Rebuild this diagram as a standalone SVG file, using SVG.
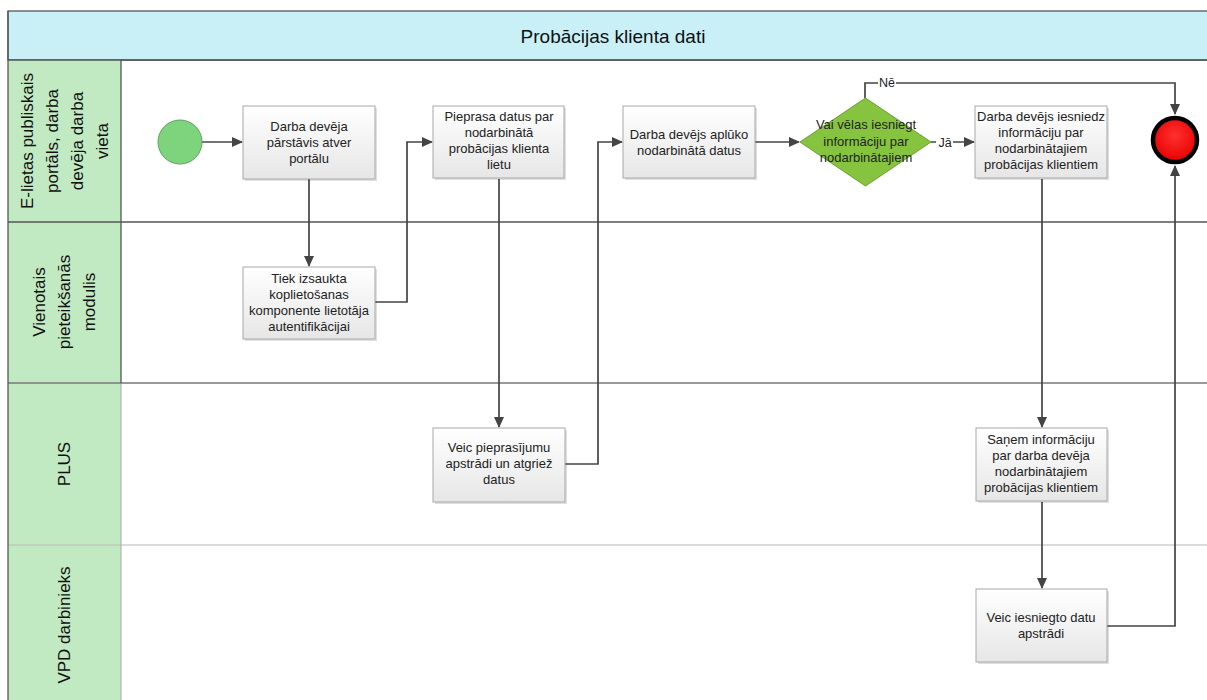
<svg xmlns="http://www.w3.org/2000/svg" width="1207" height="700" viewBox="0 0 1207 700">
<style>
.lane-h{fill:#c2eac2}
.lbl{font-family:"Liberation Sans",Arial,sans-serif;font-size:17px;fill:#111;text-anchor:middle}
.box{fill:url(#g);stroke:#a8a8a8;stroke-width:1}
.sh{fill:#000;opacity:0.12}
.t{font-family:"Liberation Sans",Arial,sans-serif;font-size:13px;fill:#222;text-anchor:middle}
.c{fill:none;stroke:#444;stroke-width:1.7}
.cl{font-family:"Liberation Sans",Arial,sans-serif;font-size:12.5px;fill:#222;text-anchor:middle}
</style>
<defs>
<linearGradient id="g" x1="0" y1="0" x2="0" y2="1">
<stop offset="0" stop-color="#ffffff"/>
<stop offset="1" stop-color="#e6e6e6"/>
</linearGradient>
<radialGradient id="rg" cx="0.5" cy="0.4" r="0.6">
<stop offset="0" stop-color="#ff3030"/>
<stop offset="1" stop-color="#e80000"/>
</radialGradient>
<marker id="a" markerWidth="11" markerHeight="10" refX="10" refY="5" orient="auto" markerUnits="userSpaceOnUse">
<path d="M0,0 L11,5 L0,10 Z" fill="#444"/>
</marker>
</defs>
<rect width="1207" height="700" fill="#fff"/>
<g id="pool">
<rect x="8" y="11" width="1210" height="49" fill="#c8f0f6" stroke="#555" stroke-width="1.3"/>
<text x="613" y="43" font-family="Liberation Sans,Arial,sans-serif" font-size="19" fill="#111" text-anchor="middle">Probācijas klienta dati</text>
<rect class="lane-h" x="8" y="60" width="113" height="650"/>
<line x1="121" y1="383" x2="121" y2="700" stroke="#aaa" stroke-width="1"/>
<line x1="8" y1="545" x2="1207" y2="545" stroke="#b8b8b8" stroke-width="1.2"/>
<line x1="8" y1="383" x2="1207" y2="383" stroke="#777" stroke-width="1.3"/>
<line x1="121" y1="60" x2="121" y2="383" stroke="#555" stroke-width="1.3"/>
<line x1="8" y1="222" x2="1207" y2="222" stroke="#555" stroke-width="1.3"/>
<line x1="8" y1="60" x2="1207" y2="60" stroke="#555" stroke-width="1.3"/>
<line x1="8" y1="11" x2="8" y2="700" stroke="#555" stroke-width="1.3"/>
</g>
<g id="lane1-label" transform="translate(64,141) rotate(-90)">
<text class="lbl" x="0" y="-31">E-lietas publiskais</text>
<text class="lbl" x="0" y="-6">portāls, darba</text>
<text class="lbl" x="0" y="19">devēja darba</text>
<text class="lbl" x="0" y="44">vieta</text>
</g>
<g id="lane2-label" transform="translate(64,302) rotate(-90)">
<text class="lbl" x="0" y="-19">Vienotais</text>
<text class="lbl" x="0" y="6">pieteikšanās</text>
<text class="lbl" x="0" y="31">modulis</text>
</g>
<g id="lane3-label" transform="translate(64,464) rotate(-90)">
<text class="lbl" x="0" y="6">PLUS</text>
</g>
<g id="lane4-label" transform="translate(64,625) rotate(-90)">
<text class="lbl" x="0" y="6">VPD darbinieks</text>
</g>
<g id="connectors">
<path class="c" d="M202,142 L242,142" marker-end="url(#a)"/>
<path class="c" d="M309,179 L309,266" marker-end="url(#a)"/>
<path class="c" d="M375,302 L407,302 L407,142 L432,142" marker-end="url(#a)"/>
<path class="c" d="M499,179 L499,427" marker-end="url(#a)"/>
<path class="c" d="M565,464 L598,464 L598,142 L622,142" marker-end="url(#a)"/>
<path class="c" d="M755,142 L799,142" marker-end="url(#a)"/>
<path class="c" d="M931,142 L974,142" marker-end="url(#a)"/>
<path class="c" d="M865,98 L865,83 L1175,83 L1175,114" marker-end="url(#a)"/>
<path class="c" d="M1042,179 L1042,427" marker-end="url(#a)"/>
<path class="c" d="M1042,502 L1042,588" marker-end="url(#a)"/>
<path class="c" d="M1107,626 L1175,626 L1175,166" marker-end="url(#a)"/>
<rect x="878" y="76" width="18" height="13" fill="#fff"/>
<text class="cl" x="887" y="87">Nē</text>
<rect x="936" y="135" width="17" height="13" fill="#fff"/>
<text class="cl" x="945" y="147">Jā</text>
</g>
<g id="start">
<circle cx="180" cy="142" r="22" fill="#7dd47d" stroke="#5e9e5e" stroke-width="1"/>
</g>
<g id="n1">
<rect class="sh" x="245" y="108" width="132" height="73"/>
<rect class="box" x="243" y="106" width="132" height="73"/>
<text class="t" x="309" y="131">Darba devēja</text>
<text class="t" x="309" y="147">pārstāvis atver</text>
<text class="t" x="309" y="163">portālu</text>
</g>
<g id="n2">
<rect class="sh" x="435" y="108" width="131" height="72"/>
<rect class="box" x="433" y="106" width="131" height="72"/>
<text class="t" x="499" y="121">Pieprasa datus par</text>
<text class="t" x="499" y="137">nodarbinātā</text>
<text class="t" x="499" y="153">probācijas klienta</text>
<text class="t" x="499" y="169">lietu</text>
</g>
<g id="n3">
<rect class="sh" x="625" y="108" width="132" height="72"/>
<rect class="box" x="623" y="106" width="132" height="72"/>
<text class="t" x="689" y="139">Darba devējs aplūko</text>
<text class="t" x="689" y="155">nodarbinātā datus</text>
</g>
<g id="gateway">
<polygon points="865.5,98 931,142 865.5,186 800,142" fill="#86c440" stroke="#6a9e30" stroke-width="1"/>
<text class="t" x="866" y="129">Vai vēlas iesniegt</text>
<text class="t" x="866" y="146">informāciju par</text>
<text class="t" x="866" y="162">nodarbinātajiem</text>
</g>
<g id="n4">
<rect class="sh" x="977" y="108" width="132" height="72"/>
<rect class="box" x="975" y="106" width="132" height="72"/>
<text class="t" x="1041" y="121">Darba devējs iesniedz</text>
<text class="t" x="1041" y="137">informāciju par</text>
<text class="t" x="1041" y="153">nodarbinātajiem</text>
<text class="t" x="1041" y="169">probācijas klientiem</text>
</g>
<g id="end">
<circle cx="1175" cy="140" r="22" fill="url(#rg)" stroke="#000" stroke-width="4.5"/>
</g>
<g id="n5">
<rect class="sh" x="245" y="269" width="132" height="72"/>
<rect class="box" x="243" y="267" width="132" height="72"/>
<text class="t" x="309" y="283">Tiek izsaukta</text>
<text class="t" x="309" y="299">koplietošanas</text>
<text class="t" x="309" y="315">komponente lietotāja</text>
<text class="t" x="309" y="331">autentifikācijai</text>
</g>
<g id="n6">
<rect class="sh" x="435" y="430" width="132" height="74"/>
<rect class="box" x="433" y="428" width="132" height="74"/>
<text class="t" x="499" y="452">Veic pieprasījumu</text>
<text class="t" x="499" y="468">apstrādi un atgriež</text>
<text class="t" x="499" y="484">datus</text>
</g>
<g id="n7">
<rect class="sh" x="978" y="430" width="131" height="73"/>
<rect class="box" x="976" y="428" width="131" height="73"/>
<text class="t" x="1041" y="444">Saņem informāciju</text>
<text class="t" x="1041" y="460">par darba devēja</text>
<text class="t" x="1041" y="476">nodarbinātajiem</text>
<text class="t" x="1041" y="492">probācijas klientiem</text>
</g>
<g id="n8">
<rect class="sh" x="978" y="591" width="131" height="73"/>
<rect class="box" x="976" y="589" width="131" height="73"/>
<text class="t" x="1041" y="622">Veic iesniegto datu</text>
<text class="t" x="1041" y="638">apstrādi</text>
</g>
</svg>
